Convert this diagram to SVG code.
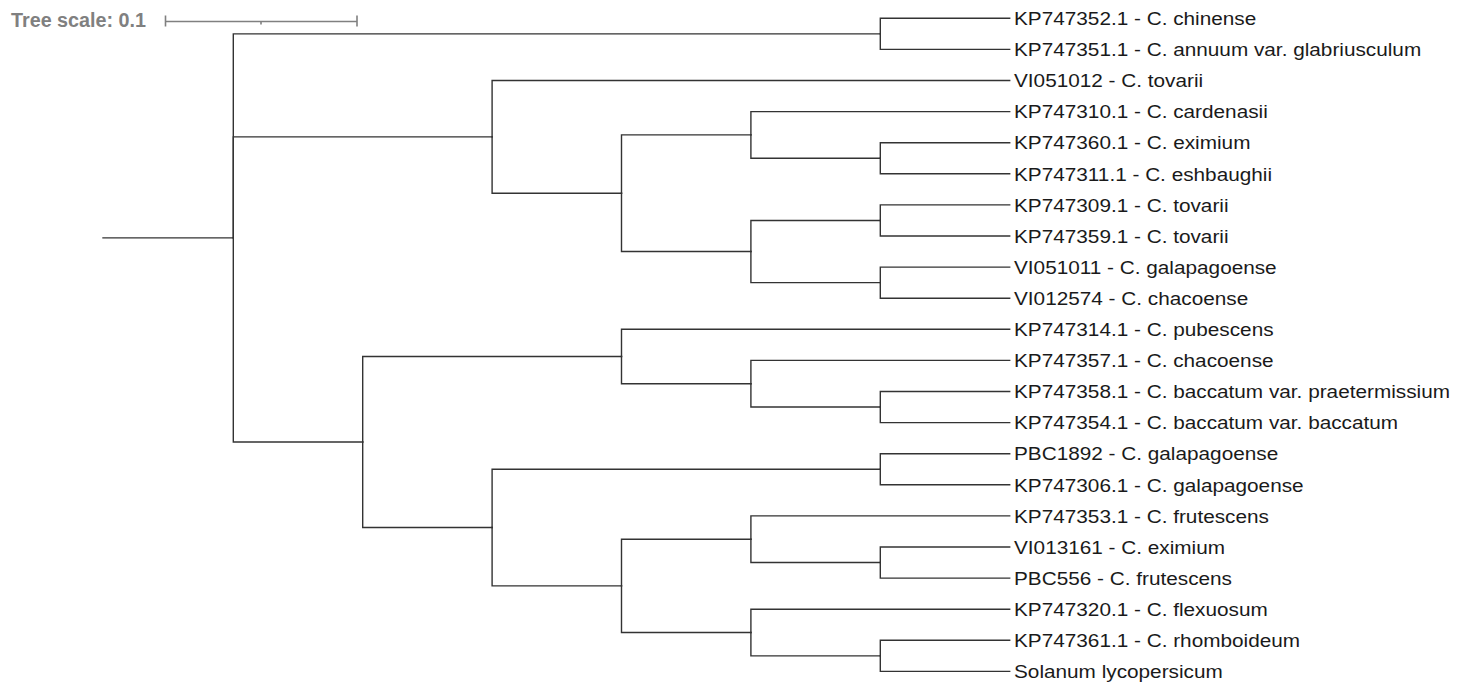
<svg xmlns="http://www.w3.org/2000/svg" width="1468" height="684" viewBox="0 0 1468 684">
<style>
.e{fill:none;stroke:#333;stroke-width:1.4;stroke-linecap:square}
.lbl{font-family:"Liberation Sans",Arial,sans-serif;font-size:18.7px;fill:#1a1a1a}
.sc{fill:none;stroke:#808080;stroke-width:1.6}
.sct{font-family:"Liberation Sans",Arial,sans-serif;font-size:19.5px;font-weight:bold;fill:#808080}
</style>
<rect width="1468" height="684" fill="#fff"/>
<g id="scale">
<text class="sct" x="11" y="26.7" textLength="135" lengthAdjust="spacingAndGlyphs">Tree scale: 0.1</text>
<path class="sc" d="M165.5,21.5 H357 M165.5,15.5 V26.5 M357,15.5 V26.5 M261,21.5 V24.5"/>
</g>
<g id="connectors">
<path class="e" d="M103,237.9 H233.3"/>
<path class="e" d="M233.3,237.9 V33.85 H880.3"/>
<path class="e" d="M233.3,237.9 V136.85 H492.1"/>
<path class="e" d="M233.3,237.9 V442 H362.7"/>
<path class="e" d="M880.3,33.85 V18.3 H1009.7"/>
<path class="e" d="M880.3,33.85 V49.4 H1009.7"/>
<path class="e" d="M492.1,136.85 V80.5 H1009.7"/>
<path class="e" d="M492.1,136.85 V193.2 H621.5"/>
<path class="e" d="M621.5,193.2 V134.9 H750.9"/>
<path class="e" d="M621.5,193.2 V251.55 H750.9"/>
<path class="e" d="M750.9,134.9 V111.6 H1009.7"/>
<path class="e" d="M750.9,134.9 V158.25 H880.3"/>
<path class="e" d="M880.3,158.25 V142.7 H1009.7"/>
<path class="e" d="M880.3,158.25 V173.8 H1009.7"/>
<path class="e" d="M750.9,251.55 V220.45 H880.3"/>
<path class="e" d="M750.9,251.55 V282.65 H880.3"/>
<path class="e" d="M880.3,220.45 V204.9 H1009.7"/>
<path class="e" d="M880.3,220.45 V236 H1009.7"/>
<path class="e" d="M880.3,282.65 V267.1 H1009.7"/>
<path class="e" d="M880.3,282.65 V298.2 H1009.7"/>
<path class="e" d="M362.7,442 V356.5 H621.5"/>
<path class="e" d="M362.7,442 V527.55 H492.1"/>
<path class="e" d="M621.5,356.5 V329.3 H1009.7"/>
<path class="e" d="M621.5,356.5 V383.7 H750.9"/>
<path class="e" d="M750.9,383.7 V360.4 H1009.7"/>
<path class="e" d="M750.9,383.7 V407.05 H880.3"/>
<path class="e" d="M880.3,407.05 V391.5 H1009.7"/>
<path class="e" d="M880.3,407.05 V422.6 H1009.7"/>
<path class="e" d="M492.1,527.55 V469.25 H880.3"/>
<path class="e" d="M492.1,527.55 V585.85 H621.5"/>
<path class="e" d="M880.3,469.25 V453.7 H1009.7"/>
<path class="e" d="M880.3,469.25 V484.8 H1009.7"/>
<path class="e" d="M621.5,585.85 V539.2 H750.9"/>
<path class="e" d="M621.5,585.85 V632.5 H750.9"/>
<path class="e" d="M750.9,539.2 V515.9 H1009.7"/>
<path class="e" d="M750.9,539.2 V562.55 H880.3"/>
<path class="e" d="M880.3,562.55 V547 H1009.7"/>
<path class="e" d="M880.3,562.55 V578.1 H1009.7"/>
<path class="e" d="M750.9,632.5 V609.2 H1009.7"/>
<path class="e" d="M750.9,632.5 V655.85 H880.3"/>
<path class="e" d="M880.3,655.85 V640.3 H1009.7"/>
<path class="e" d="M880.3,655.85 V671.4 H1009.7"/>
</g>
<g id="labels" transform="translate(1014,0) scale(1.11,1)">
<g id="leaf0"><text class="lbl" x="0" y="25.1">KP747352.1 - C. chinense</text></g>
<g id="leaf1"><text class="lbl" x="0" y="56.2">KP747351.1 - C. annuum var. glabriusculum</text></g>
<g id="leaf2"><text class="lbl" x="0" y="87.3">VI051012 - C. tovarii</text></g>
<g id="leaf3"><text class="lbl" x="0" y="118.4">KP747310.1 - C. cardenasii</text></g>
<g id="leaf4"><text class="lbl" x="0" y="149.5">KP747360.1 - C. eximium</text></g>
<g id="leaf5"><text class="lbl" x="0" y="180.6">KP747311.1 - C. eshbaughii</text></g>
<g id="leaf6"><text class="lbl" x="0" y="211.7">KP747309.1 - C. tovarii</text></g>
<g id="leaf7"><text class="lbl" x="0" y="242.8">KP747359.1 - C. tovarii</text></g>
<g id="leaf8"><text class="lbl" x="0" y="273.9">VI051011 - C. galapagoense</text></g>
<g id="leaf9"><text class="lbl" x="0" y="305">VI012574 - C. chacoense</text></g>
<g id="leaf10"><text class="lbl" x="0" y="336.1">KP747314.1 - C. pubescens</text></g>
<g id="leaf11"><text class="lbl" x="0" y="367.2">KP747357.1 - C. chacoense</text></g>
<g id="leaf12"><text class="lbl" x="0" y="398.3">KP747358.1 - C. baccatum var. praetermissium</text></g>
<g id="leaf13"><text class="lbl" x="0" y="429.4">KP747354.1 - C. baccatum var. baccatum</text></g>
<g id="leaf14"><text class="lbl" x="0" y="460.5">PBC1892 - C. galapagoense</text></g>
<g id="leaf15"><text class="lbl" x="0" y="491.6">KP747306.1 - C. galapagoense</text></g>
<g id="leaf16"><text class="lbl" x="0" y="522.7">KP747353.1 - C. frutescens</text></g>
<g id="leaf17"><text class="lbl" x="0" y="553.8">VI013161 - C. eximium</text></g>
<g id="leaf18"><text class="lbl" x="0" y="584.9">PBC556 - C. frutescens</text></g>
<g id="leaf19"><text class="lbl" x="0" y="616">KP747320.1 - C. flexuosum</text></g>
<g id="leaf20"><text class="lbl" x="0" y="647.1">KP747361.1 - C. rhomboideum</text></g>
<g id="leaf21"><text class="lbl" x="0" y="678.2">Solanum lycopersicum</text></g>
</g>
</svg>
